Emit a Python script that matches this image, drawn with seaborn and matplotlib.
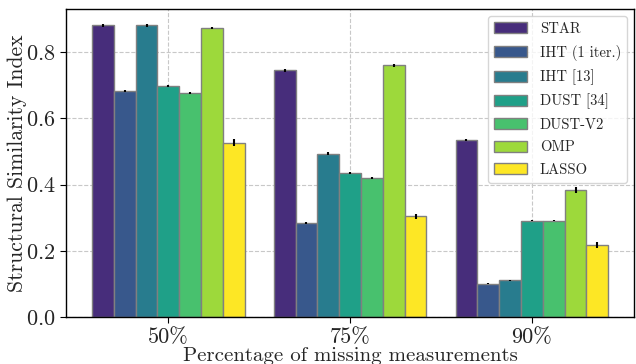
import numpy as np
import pandas as pd
import matplotlib
matplotlib.use("Agg")
import matplotlib.pyplot as plt
import seaborn as sns

# values
groups = ["50%", "75%", "90%"]
methods = ["STAR", "IHT (1 iter.)", "IHT [13]", "DUST [34]", "DUST-V2", "OMP", "LASSO"]
ssim_50 = [0.881, 0.682, 0.881, 0.697, 0.678, 0.873, 0.527]
ssim_75 = [0.745, 0.284, 0.494, 0.435, 0.420, 0.760, 0.304]
ssim_90 = [0.535, 0.101, 0.111, 0.291, 0.291, 0.384, 0.218]
err_50 = [0.004, 0.003, 0.005, 0.003, 0.003, 0.003, 0.010]
err_75 = [0.004, 0.002, 0.005, 0.002, 0.002, 0.005, 0.008]
err_90 = [0.003, 0.002, 0.002, 0.002, 0.002, 0.008, 0.008]

rows = []
for g, vals, errs in zip(groups, [ssim_50, ssim_75, ssim_90], [err_50, err_75, err_90]):
    for m, v, e in zip(methods, vals, errs):
        rows.append({"missing": g, "method": m, "ssim": v, "err": e})
df = pd.DataFrame(rows)

sns.set_style("whitegrid", {"grid.linestyle": "--", "grid.color": "#c8c8c8",
                            "axes.edgecolor": "black"})
plt.rcParams["font.family"] = ["cmr10", "DejaVu Serif"]
plt.rcParams["mathtext.fontset"] = "cm"
plt.rcParams["axes.formatter.use_mathtext"] = True

palette = [plt.cm.viridis(x) for x in np.linspace(0.125, 1.0, 7)]

fig, ax = plt.subplots(figsize=(6.36, 3.64), dpi=100)
fig.subplots_adjust(left=0.104, right=0.997, top=0.975, bottom=0.129)

sns.barplot(data=df, x="missing", y="ssim", hue="method", palette=palette,
            errorbar=None, width=0.84, edgecolor="gray", linewidth=1,
            saturation=1, ax=ax)

# error bars on the bar centres (patches are ordered hue by hue)
bars = [p for p in ax.patches if p.get_height() > 0][:len(df)]
for i, m in enumerate(methods):
    sub = df[df["method"] == m]
    for j, (_, r) in enumerate(sub.iterrows()):
        p = bars[i * len(groups) + j]
        ax.errorbar(p.get_x() + p.get_width() / 2, r["ssim"], yerr=r["err"],
                    fmt="none", ecolor="black", elinewidth=1.5, capsize=0)

ax.set_axisbelow(True)
ax.grid(True, axis="both")
for s in ax.spines.values():
    s.set_color("black")
    s.set_linewidth(1)
ax.tick_params(axis="both", which="both", length=4, color="black",
               labelsize=16, bottom=True, left=True)
ax.set_yticks([0.0, 0.2, 0.4, 0.6, 0.8])
ax.set_xlabel("Percentage of missing measurements", fontsize=15, labelpad=0)
ax.set_ylabel("Structural Similarity Index", fontsize=15.6, labelpad=-1)

leg = ax.legend(loc="upper right", fontsize=10.5, frameon=True, edgecolor="#cccccc",
                handlelength=2.3, handleheight=0.8, labelspacing=0.6,
                handletextpad=0.85)
for h in leg.legend_handles:
    h.set_edgecolor("gray")

plt.savefig("out.png", dpi=100)
